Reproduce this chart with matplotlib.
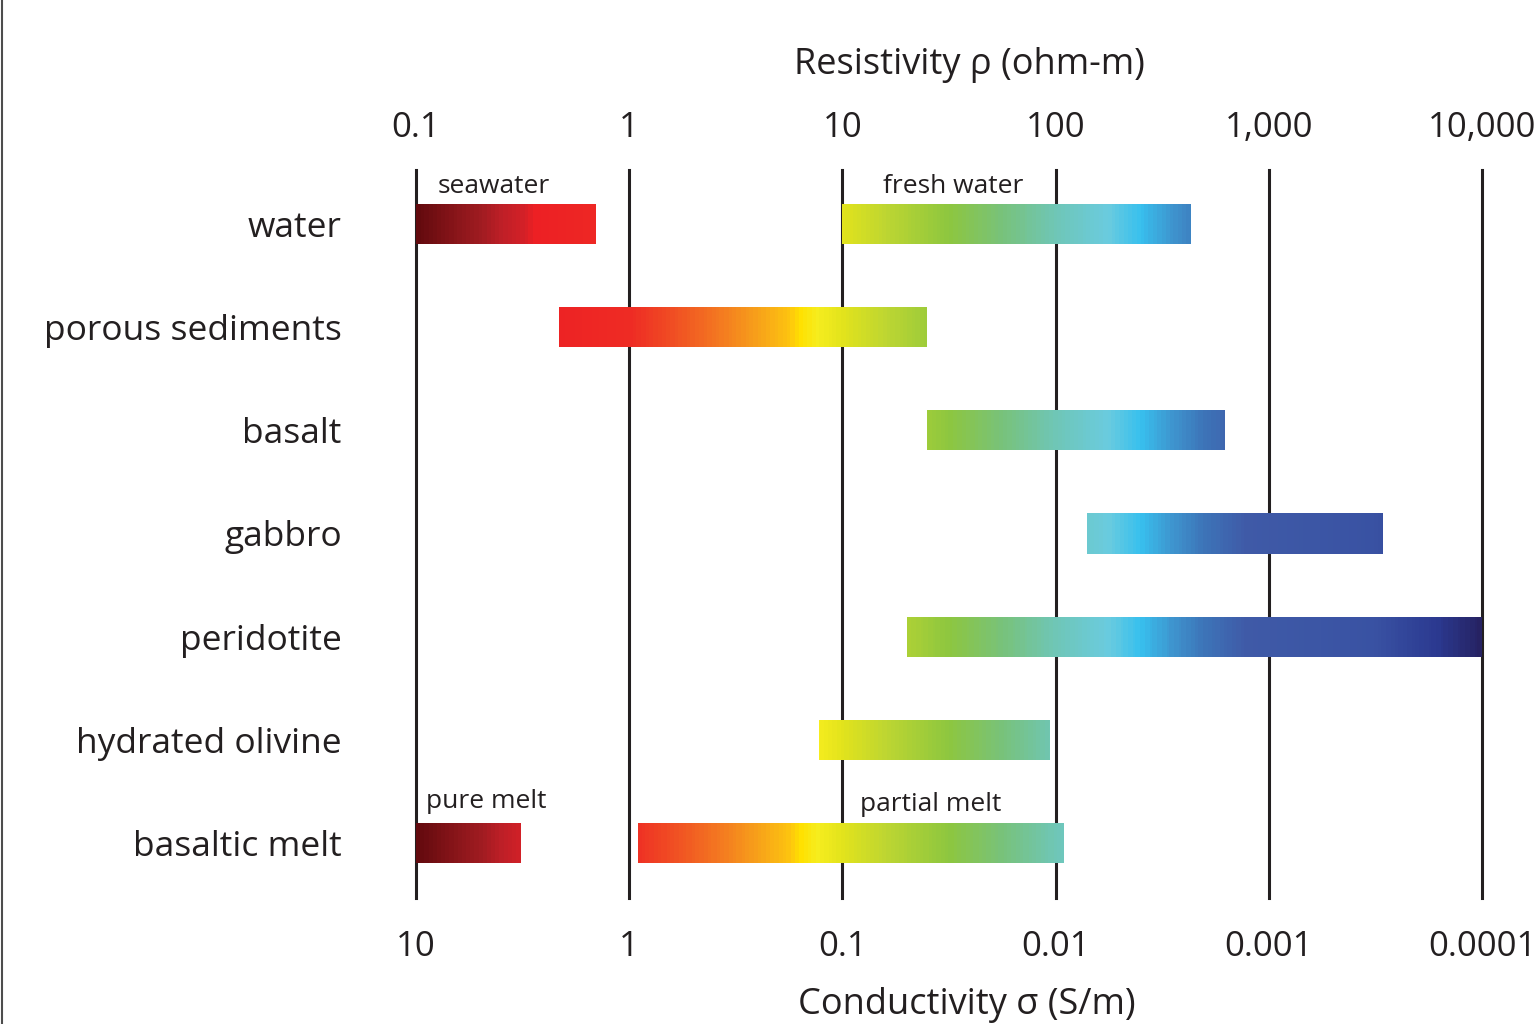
import numpy as np
import matplotlib
matplotlib.use("Agg")
import matplotlib.pyplot as plt
from matplotlib.colors import LinearSegmentedColormap, Normalize
from matplotlib.ticker import NullLocator
from matplotlib.lines import Line2D

# ---------------- data ----------------
categories = ["water", "porous sediments", "basalt", "gabbro",
              "peridotite", "hydrated olivine", "basaltic melt"]
# resistivity ranges (ohm-m): (row index, low, high)
bar_rows = [0, 0, 1, 2, 3, 4, 5, 6, 6]
bar_low = [0.1, 10, 0.47, 25, 140, 20, 7.8, 0.1, 1.1]
bar_high = [0.7, 430, 25, 620, 3450, 10000, 94, 0.31, 110]
bar_notes = ["seawater", "fresh water", "", "", "", "", "", "pure melt", "partial melt"]

res_ticks = [0.1, 1, 10, 100, 1000, 10000]
res_labels = ["0.1", "1", "10", "100", "1,000", "10,000"]
cond_ticks = [10, 1, 0.1, 0.01, 0.001, 0.0001]
cond_labels = ["10", "1", "0.1", "0.01", "0.001", "0.0001"]

# ---------------- style ----------------
FONT = "Open Sans"
TXT = "#231f20"
plt.rcParams["font.family"] = [FONT, "DejaVu Sans"]

stops = [(-1.0, "#630a0e"), (-0.8, "#8d161b"), (-0.7, "#a01b21"),
         (-0.6, "#c01f27"), (-0.5, "#d42027"), (-0.45, "#ed2024"),
         (0.0, "#ee2b24"),
         (0.2, "#f04e23"), (0.4, "#f37421"), (0.6, "#f7a11a"),
         (0.75, "#fdc40f"), (0.8, "#ffe000"), (0.88, "#f6ed1e"),
         (1.0, "#e2e31c"), (1.2, "#bed631"), (1.5, "#8dc63f"),
         (1.75, "#78c27a"), (2.0, "#6fc6b6"), (2.25, "#6acbdf"),
         (2.4, "#38c0ee"), (2.55, "#3e95cf"), (2.7, "#3d74b8"),
         (2.9, "#3f5aa7"), (3.5, "#3952a3"), (3.8, "#2b3990"),
         (4.0, "#262262")]
cmap = LinearSegmentedColormap.from_list(
    "rho", [((v + 1) / 5.0, c) for v, c in stops])
norm = Normalize(-1, 4)

W, H = 1534, 1024
fig = plt.figure(figsize=(W / 100, H / 100), dpi=100)
fig.patch.set_facecolor("white")

ax_l, ax_r, ax_t, ax_b = 416, 1482, 170, 898
ax = fig.add_axes([ax_l / W, 1 - ax_b / H, (ax_r - ax_l) / W, (ax_b - ax_t) / H])
ax.set_xscale("log")
ax.set_xlim(0.1, 10000)
ax.set_ylim(6.533, -0.523)
for s in ax.spines.values():
    s.set_visible(False)

# decade lines
for t in res_ticks:
    ax.axvline(t, color=TXT, lw=2.2, zorder=2, clip_on=False)

# gradient bars
bh = 0.39
for r, lo, hi in zip(bar_rows, bar_low, bar_high):
    xs = np.logspace(np.log10(lo), np.log10(hi), 240)
    xc = np.sqrt(xs[:-1] * xs[1:])
    C = np.log10(xc)[None, :]
    ax.pcolormesh(xs, [r - bh / 2, r + bh / 2], C, cmap=cmap, norm=norm,
                  shading="flat", antialiased=False, edgecolors="none",
                  zorder=3)

# small notes above bars
note_x = {"seawater": 0.126, "fresh water": 15.5, "pure melt": 0.111,
          "partial melt": 12.1}
note_dy = {"seawater": -0.36, "fresh water": -0.36, "pure melt": -0.40,
           "partial melt": -0.37}
for r, note in zip(bar_rows, bar_notes):
    if note:
        ax.text(note_x[note], r + note_dy[note], note, ha="left", va="center",
                fontsize=19, color=TXT, zorder=4)

# category labels
ax.set_yticks(range(len(categories)), labels=categories)
ax.tick_params(axis="y", length=0, pad=53.5, labelsize=25.5, labelcolor=TXT)

# resistivity ticks on top
ax.xaxis.set_ticks_position("top")
ax.set_xticks(res_ticks, labels=res_labels)
ax.xaxis.set_minor_locator(NullLocator())
ax.tick_params(axis="x", which="both", length=0, pad=18, labelsize=25,
               labelcolor=TXT, top=True, labeltop=True, bottom=False,
               labelbottom=False)

# conductivity ticks on bottom
sec = ax.secondary_xaxis("bottom", functions=(lambda x: 1 / x, lambda x: 1 / x))
sec.set_xticks(cond_ticks, labels=cond_labels)
sec.xaxis.set_minor_locator(NullLocator())
sec.tick_params(axis="x", which="both", length=0, pad=23, labelsize=25,
                labelcolor=TXT)
for s in sec.spines.values():
    s.set_visible(False)

fig.text(969 / W, 1 - 65 / H, "Resistivity ρ (ohm-m)", ha="center",
         va="center", fontsize=26, color=TXT)
fig.text(967 / W, 1 / H, "Conductivity σ (S/m)", ha="center",
         va="bottom", fontsize=26, color=TXT)

fig.add_artist(Line2D([2 / W, 2 / W], [0, 1], transform=fig.transFigure,
                      color="#4d4d4d", lw=1.5))

fig.savefig("out.png", dpi=100)
